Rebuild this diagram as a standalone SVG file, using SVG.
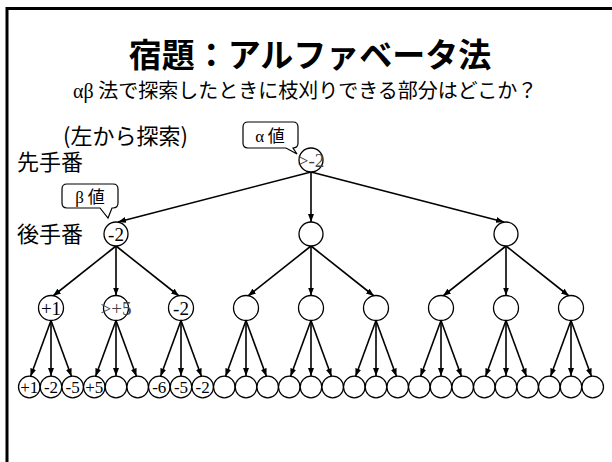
<svg xmlns="http://www.w3.org/2000/svg" width="612" height="462" viewBox="0 0 612 462">
<style>
.jp{font-family:"Noto Sans CJK JP","Liberation Sans",sans-serif;fill:#000}
.sr{font-family:"Liberation Serif",serif;fill:#000}
.nd{fill:#fff;stroke:#000;stroke-width:1.3}
.lb{font-family:"Liberation Serif",serif;font-size:19px;text-anchor:middle;fill:#000}
.lf{font-family:"Liberation Serif",serif;font-size:17px;text-anchor:middle;fill:#000}
.ed{stroke:#000;stroke-width:1.6;fill:none;marker-end:url(#ah)}
.co{fill:#fff;stroke:#000;stroke-width:1.2}
</style>
<defs>
<marker id="ah" markerUnits="userSpaceOnUse" markerWidth="8" markerHeight="6" refX="8" refY="3" orient="auto">
<path d="M0,0 L8,3 L0,6 z" fill="#000"/>
</marker>
</defs>
<rect x="7" y="8.5" width="620" height="470" fill="#fff" stroke="#000" stroke-width="3"/>
<text class="jp" x="310" y="67" font-size="33" font-weight="bold" text-anchor="middle">宿題：アルファベータ法</text>
<text x="73" y="98" font-size="20"><tspan class="sr">αβ</tspan><tspan class="jp"> 法で探索したときに枝刈りできる部分はどこか？</tspan></text>
<text class="jp" x="63" y="144" font-size="22">(左から探索)</text>
<text class="jp" x="17" y="170" font-size="22">先手番</text>
<text class="jp" x="17" y="242" font-size="22">後手番</text>
<g id="callout-alpha">
<path class="co" d="M248,122 H293 Q298,122 298,127 V143 Q298,148 293,148 L297,154 L286,148 H248 Q243,148 243,143 V127 Q243,122 248,122 Z"/>
<text x="270" y="142" font-size="17" text-anchor="middle"><tspan class="sr">α</tspan><tspan class="jp"> 値</tspan></text>
</g>
<g id="callout-beta">
<path class="co" d="M67,184 H113 Q118,184 118,189 V203 Q118,208 113,208 H112 L108,218 L100,208 H67 Q62,208 62,203 V189 Q62,184 67,184 Z"/>
<text x="90" y="203" font-size="17" text-anchor="middle"><tspan class="sr">β</tspan><tspan class="jp"> 値</tspan></text>
</g>
<g id="edges">
<line class="ed" x1="311" y1="172" x2="118" y2="222"/>
<line class="ed" x1="311" y1="172" x2="311" y2="222"/>
<line class="ed" x1="311" y1="172" x2="504" y2="222"/>
<line class="ed" x1="116" y1="246" x2="53" y2="296"/>
<line class="ed" x1="116" y1="246" x2="116" y2="295.5"/>
<line class="ed" x1="116" y1="246" x2="179" y2="296"/>
<line class="ed" x1="311" y1="246" x2="248" y2="296"/>
<line class="ed" x1="311" y1="246" x2="311" y2="295.5"/>
<line class="ed" x1="311" y1="246" x2="374" y2="296"/>
<line class="ed" x1="506" y1="246" x2="443" y2="296"/>
<line class="ed" x1="506" y1="246" x2="506" y2="295.5"/>
<line class="ed" x1="506" y1="246" x2="569" y2="296"/>
<line class="ed" x1="51" y1="320.5" x2="30.5" y2="376.5"/><line class="ed" x1="51" y1="320.5" x2="51" y2="376"/><line class="ed" x1="51" y1="320.5" x2="71.5" y2="376.5"/>
<line class="ed" x1="116" y1="320.5" x2="95.5" y2="376.5"/><line class="ed" x1="116" y1="320.5" x2="116" y2="376"/><line class="ed" x1="116" y1="320.5" x2="136.5" y2="376.5"/>
<line class="ed" x1="181" y1="320.5" x2="160.5" y2="376.5"/><line class="ed" x1="181" y1="320.5" x2="181" y2="376"/><line class="ed" x1="181" y1="320.5" x2="201.5" y2="376.5"/>
<line class="ed" x1="246" y1="320.5" x2="225.5" y2="376.5"/><line class="ed" x1="246" y1="320.5" x2="246" y2="376"/><line class="ed" x1="246" y1="320.5" x2="266.5" y2="376.5"/>
<line class="ed" x1="311" y1="320.5" x2="290.5" y2="376.5"/><line class="ed" x1="311" y1="320.5" x2="311" y2="376"/><line class="ed" x1="311" y1="320.5" x2="331.5" y2="376.5"/>
<line class="ed" x1="376" y1="320.5" x2="355.5" y2="376.5"/><line class="ed" x1="376" y1="320.5" x2="376" y2="376"/><line class="ed" x1="376" y1="320.5" x2="396.5" y2="376.5"/>
<line class="ed" x1="441" y1="320.5" x2="420.5" y2="376.5"/><line class="ed" x1="441" y1="320.5" x2="441" y2="376"/><line class="ed" x1="441" y1="320.5" x2="461.5" y2="376.5"/>
<line class="ed" x1="506" y1="320.5" x2="485.5" y2="376.5"/><line class="ed" x1="506" y1="320.5" x2="506" y2="376"/><line class="ed" x1="506" y1="320.5" x2="526.5" y2="376.5"/>
<line class="ed" x1="571" y1="320.5" x2="550.5" y2="376.5"/><line class="ed" x1="571" y1="320.5" x2="571" y2="376"/><line class="ed" x1="571" y1="320.5" x2="591.5" y2="376.5"/>
</g>
<g id="root"><circle class="nd" cx="311" cy="160" r="12"/><text class="lb" x="311" y="166.5" style="fill:#444">&gt;-2</text></g>
<g id="n1"><circle class="nd" cx="116" cy="234" r="12"/><text class="lb" x="116" y="240.5">-2</text></g>
<g id="n2"><circle class="nd" cx="311" cy="234" r="12"/></g>
<g id="n3"><circle class="nd" cx="506" cy="234" r="12"/></g>
<g id="n11"><circle class="nd" cx="51" cy="308" r="12.5"/><text class="lb" x="51" y="314.5">+1</text></g>
<g id="n12"><circle class="nd" cx="116" cy="308" r="12.5"/><text class="lb" x="116" y="314.5" style="fill:#444">&gt;+5</text></g>
<g id="n13"><circle class="nd" cx="181" cy="308" r="12.5"/><text class="lb" x="181" y="314.5">-2</text></g>
<g id="n21"><circle class="nd" cx="246" cy="308" r="12.5"/></g>
<g id="n22"><circle class="nd" cx="311" cy="308" r="12.5"/></g>
<g id="n23"><circle class="nd" cx="376" cy="308" r="12.5"/></g>
<g id="n31"><circle class="nd" cx="441" cy="308" r="12.5"/></g>
<g id="n32"><circle class="nd" cx="506" cy="308" r="12.5"/></g>
<g id="n33"><circle class="nd" cx="571" cy="308" r="12.5"/></g>
<g id="leaves">
<g id="l1"><circle class="nd" cx="29.3" cy="387" r="10.8"/><text class="lf" x="29.3" y="393">+1</text></g>
<g id="l2"><circle class="nd" cx="51" cy="387" r="10.8"/><text class="lf" x="51" y="393">-2</text></g>
<g id="l3"><circle class="nd" cx="72.7" cy="387" r="10.8"/><text class="lf" x="72.7" y="393">-5</text></g>
<g id="l4"><circle class="nd" cx="94.3" cy="387" r="10.8"/><text class="lf" x="94.3" y="393">+5</text></g>
<g id="l5"><circle class="nd" cx="116" cy="387" r="10.8"/></g>
<g id="l6"><circle class="nd" cx="137.7" cy="387" r="10.8"/></g>
<g id="l7"><circle class="nd" cx="159.3" cy="387" r="10.8"/><text class="lf" x="159.3" y="393">-6</text></g>
<g id="l8"><circle class="nd" cx="181" cy="387" r="10.8"/><text class="lf" x="181" y="393">-5</text></g>
<g id="l9"><circle class="nd" cx="202.7" cy="387" r="10.8"/><text class="lf" x="202.7" y="393">-2</text></g>
<g id="l10"><circle class="nd" cx="224.3" cy="387" r="10.8"/></g>
<g id="l11"><circle class="nd" cx="246" cy="387" r="10.8"/></g>
<g id="l12"><circle class="nd" cx="267.7" cy="387" r="10.8"/></g>
<g id="l13"><circle class="nd" cx="289.3" cy="387" r="10.8"/></g>
<g id="l14"><circle class="nd" cx="311" cy="387" r="10.8"/></g>
<g id="l15"><circle class="nd" cx="332.7" cy="387" r="10.8"/></g>
<g id="l16"><circle class="nd" cx="354.3" cy="387" r="10.8"/></g>
<g id="l17"><circle class="nd" cx="376" cy="387" r="10.8"/></g>
<g id="l18"><circle class="nd" cx="397.7" cy="387" r="10.8"/></g>
<g id="l19"><circle class="nd" cx="419.3" cy="387" r="10.8"/></g>
<g id="l20"><circle class="nd" cx="441" cy="387" r="10.8"/></g>
<g id="l21"><circle class="nd" cx="462.7" cy="387" r="10.8"/></g>
<g id="l22"><circle class="nd" cx="484.3" cy="387" r="10.8"/></g>
<g id="l23"><circle class="nd" cx="506" cy="387" r="10.8"/></g>
<g id="l24"><circle class="nd" cx="527.7" cy="387" r="10.8"/></g>
<g id="l25"><circle class="nd" cx="549.3" cy="387" r="10.8"/></g>
<g id="l26"><circle class="nd" cx="571" cy="387" r="10.8"/></g>
<g id="l27"><circle class="nd" cx="592.7" cy="387" r="10.8"/></g>
</g>
</svg>
